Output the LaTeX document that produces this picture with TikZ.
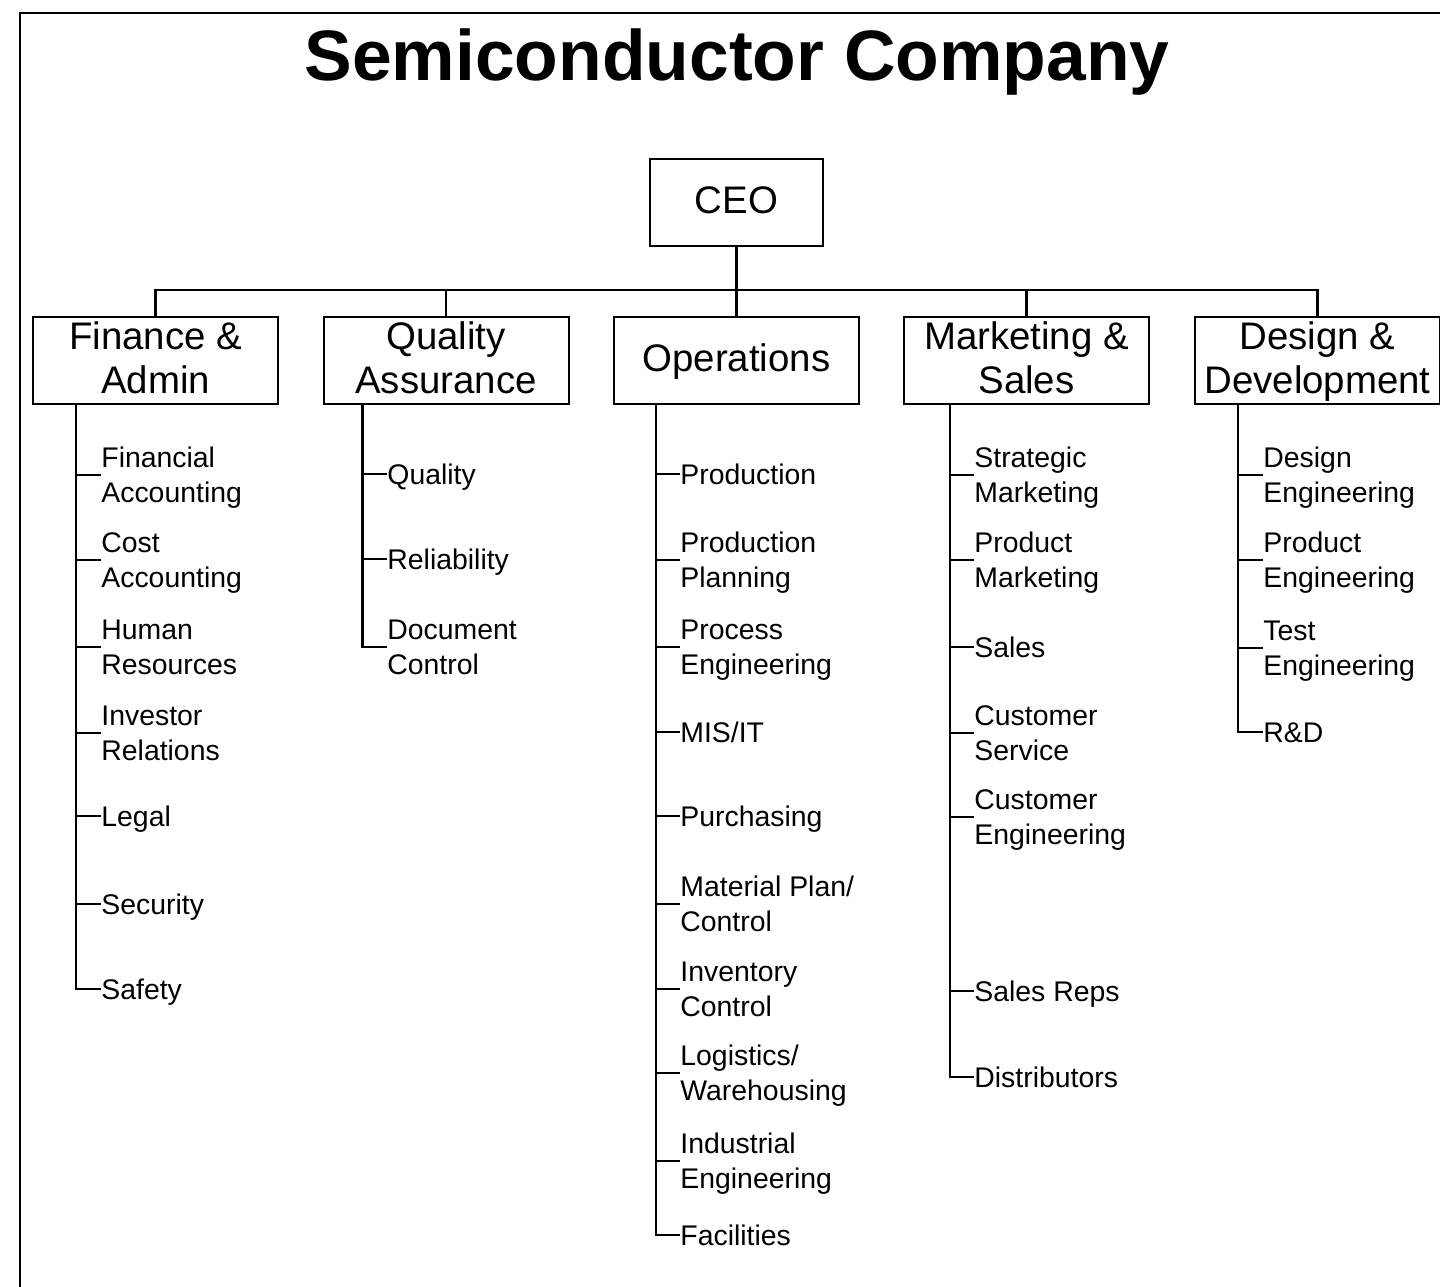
\documentclass[tikz,border=0pt]{standalone}
\usepackage{fontspec}
\setmainfont{Liberation Sans}
\newcommand\unitstrut{\rule[-4pt]{0pt}{19.3pt}}
\newcommand\leafstrut{\rule[-3pt]{0pt}{16.4pt}}

\begin{document}
\begin{tikzpicture}[x=0.5pt, y=-0.5pt,
    unit/.style={draw, line width=1pt, inner sep=0pt, minimum width=122.5pt, minimum height=43.5pt, align=center, font=\fontsize{19.2}{22}\selectfont},
    leaf/.style={anchor=west, inner sep=0pt, align=left, font=\fontsize{14.2}{17.5}\selectfont},
    link/.style={line width=1.2pt}]
    \useasboundingbox (0,0) rectangle (1440,1286);
    \clip (0,0) rectangle (1440,1286);
    \draw [line width=1pt] (20,13) rectangle (1480,1320);
    \node [anchor=base, font=\bfseries\fontsize{35.7}{40}\selectfont] (title) at (737,80) {Semiconductor Company};

    \node [unit, minimum width=86.5pt] (ceo) at (736.5,202.5) {\unitstrut CEO\unitstrut};
    \node [unit] (fin) at (155.5,360.5) {\unitstrut Finance \&\\Admin\unitstrut};
    \node [unit] (qa) at (446,360.5) {\unitstrut Quality\\Assurance\unitstrut};
    \node [unit] (ops) at (736.5,360.5) {\unitstrut Operations\unitstrut};
    \node [unit] (mkt) at (1026.5,360.5) {\unitstrut Marketing \&\\Sales\unitstrut};
    \node [unit] (dev) at (1317.5,360.5) {\unitstrut Design \&\\Development\unitstrut};
    \foreach \d in {fin,qa,ops,mkt,dev}
        \draw [link] (ceo.south) -- ++(0,43) -| (\d.north);

    \foreach \t/\y [count=\i] in {{Financial\\Accounting}/475, {Cost\\Accounting}/560, {Human\\Resources}/647, {Investor\\Relations}/733, Legal/816, Security/904, Safety/989}
        \node [leaf] (fin\i) at (101,\y) {\leafstrut\t\leafstrut};
    \foreach \t/\y [count=\i] in {Quality/474, Reliability/559, {Document\\Control}/647}
        \node [leaf] (qa\i) at (387,\y) {\leafstrut\t\leafstrut};
    \foreach \t/\y [count=\i] in {Production/474, {Production\\Planning}/560, {Process\\Engineering}/647, {MIS/IT}/732, Purchasing/816, {Material Plan/\\Control}/904, {Inventory\\Control}/989, {Logistics/\\Warehousing}/1073, {Industrial\\Engineering}/1161, Facilities/1235}
        \node [leaf] (ops\i) at (680,\y) {\leafstrut\t\leafstrut};
    \foreach \t/\y [count=\i] in {{Strategic\\Marketing}/475, {Product\\Marketing}/560, Sales/647, {Customer\\Service}/733, {Customer\\Engineering}/817, Sales Reps/991, Distributors/1077}
        \node [leaf] (mkt\i) at (974,\y) {\leafstrut\t\leafstrut};
    \foreach \t/\y [count=\i] in {{Design\\Engineering}/475, {Product\\Engineering}/560, {Test\\Engineering}/648, R\&D/732}
        \node [leaf] (dev\i) at (1263,\y) {\leafstrut\t\leafstrut};

    \foreach \grp/\n/\dx in {fin/7/22pt, qa/3/20pt, ops/10/21.5pt, mkt/7/23.5pt, dev/4/22pt} {
        \coordinate (\grp bar) at ([xshift=\dx]\grp.south west);
        \draw [link] (\grp bar) |- (\grp\n.west);
        \foreach \i in {1,...,\n}
            \draw [link] (\grp\i.west) -- (\grp\i.west -| \grp bar);
    }
\end{tikzpicture}
\end{document}
